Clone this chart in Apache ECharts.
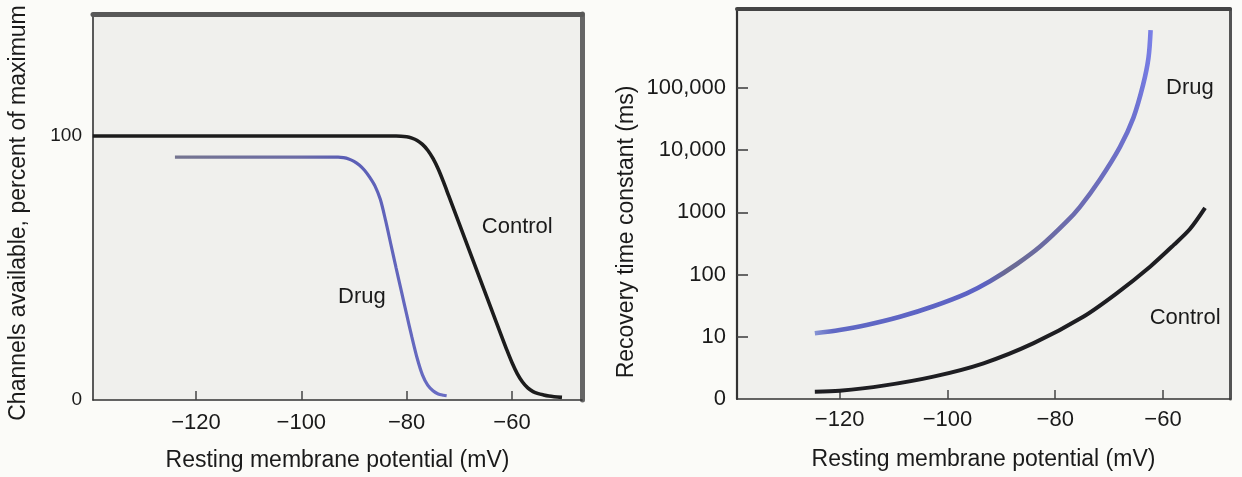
<!DOCTYPE html>
<html>
<head>
<meta charset="utf-8">
<script src="https://cdn.jsdelivr.net/npm/echarts@6/dist/echarts.min.js"></script>
<style>
  html, body { margin: 0; padding: 0; background: #fbfbf8; }
  #chart { width: 1242px; height: 477px; }
</style>
</head>
<body>
<div id="chart"></div>
<script>
// Left panel: channels available (% of maximum) vs resting membrane potential (mV)
const availVoltsControl = [-139.6, -110, -90, -82, -80, -79, -78, -77, -76, -75, -74, -73, -72, -70, -68, -66, -64, -62, -61, -60, -59, -58, -57, -56, -55, -54, -53, -52, -50.5];
const availControl      = [100, 100, 100, 100, 99.7, 99.2, 98.3, 96.8, 94.6, 91.5, 87.5, 82.6, 77.3, 66.7, 56.1, 45.5, 34.9, 24.3, 19.1, 14.2, 10, 6.8, 4.6, 3.2, 2.4, 1.9, 1.5, 1.25, 1.0];
const availVoltsDrug    = [-124, -110, -100, -93, -92, -91, -90, -89, -88, -87, -86, -85, -84, -83, -82, -81, -80, -79, -78, -77, -76, -75, -74, -73, -72.4];
const availDrug         = [92, 92, 92, 92, 91.8, 91.3, 90.4, 89.0, 87.0, 84.3, 81, 76, 68, 59, 50, 41.2, 32.4, 23.8, 15.8, 9.5, 5.6, 3.5, 2.3, 1.8, 1.6];

// Right panel: recovery time constant (ms) vs resting membrane potential (mV)
const recovVoltsDrug    = [-124.6, -120, -115, -108.8, -102.6, -96.4, -92.1, -87.1, -82.8, -77.9, -75.4, -71.7, -68, -65.5, -63.7, -62.7, -62.3];
const recovDrug         = [11.4, 12.9, 15.5, 21, 31, 50, 78, 148, 282, 708, 1230, 3390, 11220, 33100, 112000, 302000, 851000];
const recovVoltsControl = [-124.6, -120, -111.9, -102.6, -93.3, -84, -74.8, -68.6, -62.4, -58, -55, -52.2];
const recovControl      = [1.31, 1.36, 1.64, 2.29, 3.75, 7.9, 21, 50, 134, 300, 540, 1180];

// Tick values
const voltTicks  = [-120, -100, -80, -60];
const availTicks = [0, 100];
const recovTicks = [1, 10, 100, 1000, 10000, 100000];
const recovMinorTicks = [10, 100, 1000, 10000, 100000];

const xTitle = 'Resting membrane potential (mV)';
const availTitle = 'Channels available, percent of maximum';
const recovTitle = 'Recovery time constant (ms)';

const FONT = '"Liberation Sans", Arial, Helvetica, sans-serif';
const INK = '#1a1a1a';

const zip = (xs, ys) => xs.map((x, i) => [x, ys[i]]);
const voltLabel = v => (v < 0 ? '\u2212' + Math.abs(v) : String(v));
const recovLabel = v => {
  const r = Math.round(v);
  if (r === 1) return '0';
  return r >= 10000 ? r.toLocaleString('en-US') : String(r);
};

function voltAxis(grid, min, max, margin) {
  return {
    gridIndex: grid, type: 'value', position: 'bottom', min: min, max: max,
    axisLine: { onZero: false, lineStyle: { color: '#333', width: 1.6 } },
    axisTick: { inside: true, length: 9, customValues: voltTicks, lineStyle: { color: '#444', width: 1.5 } },
    axisLabel: { customValues: voltTicks, formatter: voltLabel, fontSize: 22, color: INK, fontFamily: FONT, margin: margin },
    splitLine: { show: false },
    name: xTitle, nameLocation: 'middle', nameGap: 49,
    nameTextStyle: { fontSize: 23, color: INK, fontFamily: FONT }
  };
}
function frameX(grid, width, color) {
  return {
    gridIndex: grid, type: 'value', position: 'top', min: 0, max: 1,
    axisLine: { onZero: false, lineStyle: { color: color, width: width } },
    axisTick: { show: false }, axisLabel: { show: false }, splitLine: { show: false }
  };
}
function frameY(grid, width, color) {
  return {
    gridIndex: grid, type: 'value', position: 'right', min: 0, max: 1,
    axisLine: { onZero: false, lineStyle: { color: color, width: width } },
    axisTick: { show: false }, axisLabel: { show: false }, splitLine: { show: false }
  };
}
function note(text, coord) {
  return {
    symbol: 'rect', symbolSize: 1, silent: true,
    itemStyle: { color: 'rgba(0,0,0,0)' },
    label: { show: true, position: 'inside', formatter: text, fontSize: 22, color: INK, fontFamily: FONT },
    data: [{ coord: coord }]
  };
}

const chart = echarts.init(document.getElementById('chart'), null, { renderer: 'canvas' });

chart.setOption({
  animation: false,
  backgroundColor: '#fbfbf8',
  textStyle: { fontFamily: FONT },
  grid: [
    { left: 93, top: 14, width: 489, height: 389, show: true, backgroundColor: '#f0f0ed', borderWidth: 0 },
    { left: 737, top: 9, width: 493, height: 390, show: true, backgroundColor: '#f0f0ed', borderWidth: 0 }
  ],
  xAxis: [
    voltAxis(0, -139.56, -46.7, 12),
    frameX(0, 5, '#585858'),
    voltAxis(1, -139.04, -47.57, 10),
    frameX(1, 4, '#444')
  ],
  yAxis: [
    {
      gridIndex: 0, type: 'value', min: 0, max: 146.2,
      axisLine: { onZero: false, lineStyle: { color: '#333', width: 1.6 } },
      axisTick: { show: false },
      axisLabel: { customValues: availTicks, fontSize: 19, color: INK, fontFamily: FONT, margin: 11 },
      splitLine: { show: false },
      name: availTitle, nameLocation: 'middle', nameRotate: 90, nameGap: 63,
      nameTextStyle: { fontSize: 23, color: INK, fontFamily: FONT, padding: [0, 12, 0, 0] }
    },
    frameY(0, 5, '#666'),
    {
      gridIndex: 1, type: 'log', logBase: 10, min: 1, max: 1.862e6,
      axisLine: { onZero: false, lineStyle: { color: '#333', width: 2.2 } },
      axisTick: { inside: true, length: 11, customValues: recovMinorTicks, lineStyle: { color: '#444', width: 1.6 } },
      axisLabel: { customValues: recovTicks, formatter: recovLabel, fontSize: 22, color: INK, fontFamily: FONT, margin: 11 },
      splitLine: { show: false }, minorSplitLine: { show: false },
      name: recovTitle, nameLocation: 'middle', nameRotate: 90, nameGap: 99,
      nameTextStyle: { fontSize: 23, color: INK, fontFamily: FONT, padding: [0, 56, 0, 0] }
    },
    frameY(1, 3, '#555')
  ],
  series: [
    {
      type: 'line', xAxisIndex: 0, yAxisIndex: 0, data: zip(availVoltsControl, availControl),
      showSymbol: false, smooth: 0.3,
      lineStyle: { color: '#1c1c1c', width: 3.6 },
      markPoint: note('Control', [-59, 65.5])
    },
    {
      type: 'line', xAxisIndex: 0, yAxisIndex: 0, data: zip(availVoltsDrug, availDrug),
      showSymbol: false, smooth: 0.3,
      lineStyle: {
        width: 3.2,
        color: new echarts.graphic.LinearGradient(0, 0, 1, 0, [
          { offset: 0, color: '#75758f' },
          { offset: 0.45, color: '#6c6ca6' },
          { offset: 0.62, color: '#5a5db4' },
          { offset: 1, color: '#6a6ec4' }
        ])
      },
      markPoint: note('Drug', [-88.5, 39])
    },
    {
      type: 'line', xAxisIndex: 2, yAxisIndex: 2, data: zip(recovVoltsDrug, recovDrug),
      showSymbol: false, smooth: 0.3,
      lineStyle: {
        width: 4.6,
        color: new echarts.graphic.LinearGradient(0, 0, 1, 0, [
          { offset: 0, color: '#8c9ad6' },
          { offset: 0.06, color: '#6068c4' },
          { offset: 0.5, color: '#5c62c4' },
          { offset: 0.57, color: '#6a6a92' },
          { offset: 0.8, color: '#6c6cb4' },
          { offset: 0.95, color: '#6e72d2' },
          { offset: 1, color: '#7a80e8' }
        ])
      },
      markPoint: note('Drug', [-55, 100000])
    },
    {
      type: 'line', xAxisIndex: 2, yAxisIndex: 2, data: zip(recovVoltsControl, recovControl),
      showSymbol: false, smooth: 0.3,
      lineStyle: { color: '#1e1e22', width: 4 },
      markPoint: note('Control', [-55.9, 20])
    }
  ]
});
</script>
</body>
</html>
